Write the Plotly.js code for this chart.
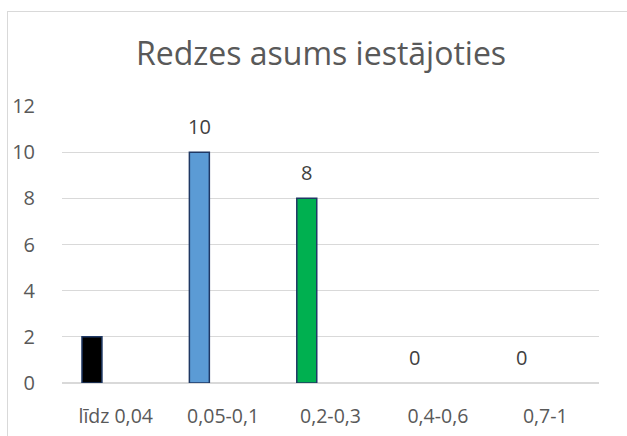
<!DOCTYPE html>
<html>
<head>
<meta charset="utf-8">
<script src="https://cdn.plot.ly/plotly-3.0.1.min.js"></script>
<style>
  html, body { margin: 0; padding: 0; background: #fff; }
  #wrap { position: relative; width: 627px; height: 436px; overflow: hidden; }
  #chart { position: absolute; left: 0; top: 0; width: 627px; height: 436px; }
  #frame { position: absolute; left: 7px; top: 11px; width: 640px; height: 440px;
           border-left: 1px solid #D9D9D9; border-top: 1px solid #D9D9D9; pointer-events: none; }
</style>
</head>
<body>
<div id="wrap">
  <div id="chart"></div>
  <div id="frame"></div>
</div>
<script>
const categories = ["līdz 0,04", "0,05-0,1", "0,2-0,3", "0,4-0,6", "0,7-1"];
const values = [2, 10, 8, 0, 0];
const showLabel = [false, true, true, true, true];
const barColors = ["#000000", "#5B9BD5", "#00B050", "#A5A5A5", "#FFC000"];
const yTicks = [0, 2, 4, 6, 8, 10, 12];

const barOffset = -0.314;
const barWidth = 0.186;

const trace = {
  type: "bar",
  x: categories,
  y: values,
  offset: barOffset,
  width: barWidth,
  marker: {
    color: barColors,
    line: { color: "#1F3864", width: values.map(v => v > 0 ? 1.5 : 0) }
  },
  hoverinfo: "skip"
};

const annotations = [];
values.forEach((v, i) => {
  if (!showLabel[i]) return;
  annotations.push({
    x: i + barOffset + barWidth / 2,
    y: v,
    xref: "x", yref: "y",
    text: String(v),
    showarrow: false,
    yanchor: "bottom",
    yshift: 10,
    font: { family: "Open Sans, sans-serif", size: 20, color: "#404040" }
  });
});

const layout = {
  width: 627, height: 436,
  margin: { l: 62, r: 28, t: 106, b: 53, pad: 0 },
  paper_bgcolor: "rgba(0,0,0,0)",
  plot_bgcolor: "#fff",
  showlegend: false,
  title: {
    text: "Redzes asums iestājoties",
    font: { family: "Open Sans, sans-serif", size: 32, color: "#595959" },
    xref: "container", x: 0.512, xanchor: "center",
    yref: "container", y: 1 - 54 / 436, yanchor: "middle"
  },
  xaxis: {
    type: "category",
    showgrid: false, zeroline: false, showline: false, ticks: "",
    tickfont: { family: "Open Sans, sans-serif", size: 19.5, color: "#595959" },
    ticklabelstandoff: 19,
    fixedrange: true
  },
  yaxis: {
    range: [0, 12],
    tickvals: yTicks,
    showgrid: true, gridcolor: "#D9D9D9", gridwidth: 1.2,
    zeroline: true, zerolinecolor: "#D9D9D9", zerolinewidth: 1.2,
    showline: false, ticks: "",
    tickfont: { family: "Open Sans, sans-serif", size: 20, color: "#595959" },
    ticklabelstandoff: 26,
    fixedrange: true
  },
  annotations: annotations
};

Plotly.newPlot("chart", [trace], layout, { displayModeBar: false, staticPlot: true });
</script>
</body>
</html>
